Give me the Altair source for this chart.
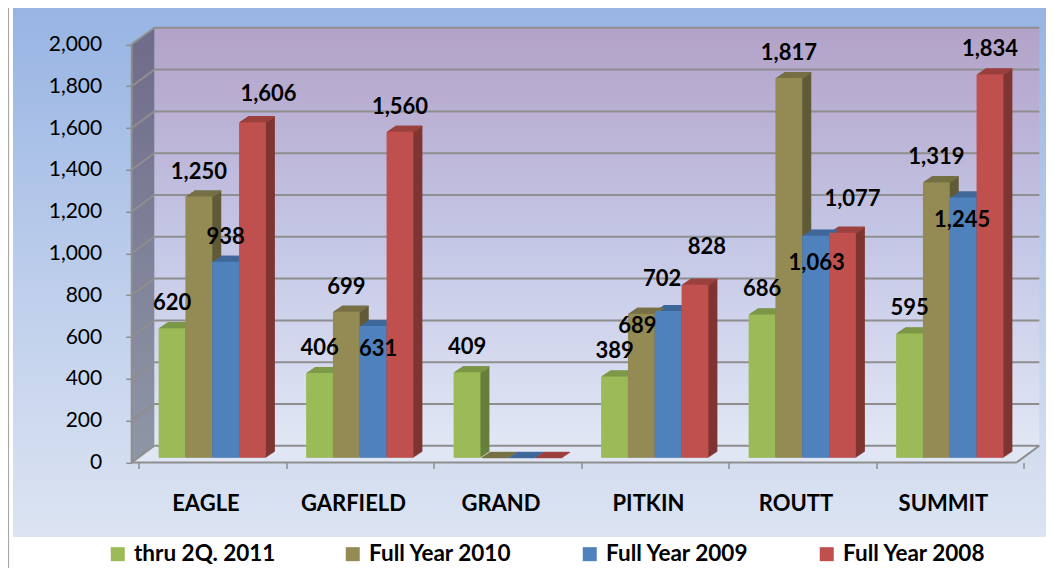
import altair as alt
import pandas as pd

# ---------------- data ----------------
counties = ["EAGLE", "GARFIELD", "GRAND", "PITKIN", "ROUTT", "SUMMIT"]
series = ["thru 2Q. 2011", "Full Year 2010", "Full Year 2009", "Full Year 2008"]
thru_2q_2011 = [620, 406, 409, 389, 686, 595]
full_year_2010 = [1250, 699, 0, 689, 1817, 1319]
full_year_2009 = [938, 631, 0, 702, 1063, 1245]
full_year_2008 = [1606, 1560, 0, 828, 1077, 1834]
y_ticks = [0, 200, 400, 600, 800, 1000, 1200, 1400, 1600, 1800, 2000]

# ---------------- styles ----------------
front_colors = ["#9bbb59", "#948a54", "#4f81bd", "#c0504d"]
side_colors = ["#687f3b", "#615a37", "#34567f", "#7f3432"]
top_colors = ["#7e9a48", "#777045", "#40689a", "#9c413e"]
FONT = "Lato"
GRID = "#8e8e8e"

# label nudges (dx, dy) for labels Excel moved to avoid collisions
label_nudge = {
    ("EAGLE", "Full Year 2008"): (16, -28),
    ("GARFIELD", "Full Year 2009"): (5, 23),
    ("PITKIN", "Full Year 2010"): (-4, 12),
    ("PITKIN", "Full Year 2009"): (-6, -32),
    ("PITKIN", "Full Year 2008"): (12, -38),
    ("ROUTT", "Full Year 2009"): (1, 27),
    ("ROUTT", "Full Year 2008"): (10, -34),
    ("SUMMIT", "Full Year 2009"): (-1, 22),
}

vals = [thru_2q_2011, full_year_2010, full_year_2009, full_year_2008]
rows = []
for si, s in enumerate(series):
    for ci, c in enumerate(counties):
        v = vals[si][ci]
        rows.append({
            "county": c, "series": s, "value": v,
            "label": f"{v:,}" if v else "",
            "side": side_colors[si], "top": top_colors[si],
            "lid": f"{c}|{s}",
        })
df = pd.DataFrame(rows)
grid_df = pd.DataFrame({"v": y_ticks})
frame_df = pd.DataFrame({"top": [max(y_ticks)], "bottom": [min(y_ticks)]})
one = pd.DataFrame({"k": [0]})

# ---------------- layout (pixels) ----------------
W, H = 885, 418
band = W / len(counties)
FX, FY = -6.8, 4.6      # front plane offset from bar plane
BX, BY = 15.8, -12.0    # back plane offset from bar plane
SIDE_W, SIDE_H = 9, 6   # bar depth

yscale = alt.Scale(domain=[0, 2000], nice=False, zero=True)
xscale = alt.Scale(type="band", domain=counties, paddingInner=0, paddingOuter=0)
yaxis = alt.Axis(values=y_ticks, labelExpr="format(datum.value, ',.0f')",
                 offset=-FX, tickOffset=FY, tickSize=6,
                 tickColor=GRID, tickWidth=1.5, domain=False, grid=False,
                 labelFont=FONT, labelFontSize=21, labelColor="black",
                 labelPadding=24, title=None, zindex=2)
xaxis = alt.Axis(orient="bottom", offset=FY, tickOffset=FX, labelOffset=FX,
                 tickBand="extent", tickSize=6,
                 tickColor=GRID, tickWidth=1.5, domain=False, grid=False,
                 labelFont=FONT, labelFontSize=22, labelFontWeight="bold",
                 labelColor="black", labelAngle=0, labelPadding=25, title=None,
                 zindex=2)


def X():
    return alt.X("county:N", sort=counties, scale=xscale, axis=xaxis)


def Y(field):
    return alt.Y(f"{field}:Q", scale=yscale, axis=yaxis)


def XO(shift=0.0):
    return alt.XOffset("series:N", sort=series,
                       scale=alt.Scale(type="band", domain=series,
                                       range=[shift, band + shift],
                                       paddingInner=0, paddingOuter=0.75))


def grad(stops):
    return {"gradient": "linear", "x1": 0, "y1": 0, "x2": 0, "y2": 1,
            "stops": [{"offset": o, "color": c} for o, c in stops]}


layers = []

# page panel background
layers.append(alt.Chart(one).mark_rect(
    fill=grad([(0, "#97b4e3"), (0.5, "#bccdeb"), (1, "#dce4f2")])).encode(
    x=alt.value(-125.5), x2=alt.value(907.5), y=alt.value(-31.8), y2=alt.value(497.2)))
# thin frame line at left
layers.append(alt.Chart(one).mark_rule(color="#a8a8a8", strokeWidth=1.2).encode(
    x=alt.value(-130), y=alt.value(-31.8), y2=alt.value(528.2)))

# back wall
layers.append(alt.Chart(frame_df).mark_rect(
    fill=grad([(0, "#b3a2c8"), (0.5, "#c4c6e6"), (1, "#e1e7f4")]),
    yOffset=BY, y2Offset=BY).encode(
    x=alt.value(BX), x2=alt.value(W + BX), y=Y("top"), y2="bottom:Q"))

# side wall & floor (parallelograms)
side_path = f"M{FX},{FY} L{BX},{BY} L{BX},{H + BY} L{FX},{H + FY} Z"
floor_path = f"M{FX},{H + FY} L{BX},{H + BY} L{W + BX},{H + BY} L{W + FX},{H + FY} Z"
layers.append(alt.Chart(one).mark_point(
    shape=side_path, size=4, filled=True, opacity=1,
    fill=grad([(0, "#6f6b8a"), (1, "#8f97a6")])).encode(x=alt.value(0), y=alt.value(0)))
layers.append(alt.Chart(one).mark_point(
    shape=floor_path, size=4, filled=True, opacity=1, fill="#e0e6f3").encode(
    x=alt.value(0), y=alt.value(0)))

# gridlines on back wall and side wall
layers.append(alt.Chart(grid_df).mark_rule(color=GRID, strokeWidth=2, yOffset=BY).encode(
    x=alt.value(BX), x2=alt.value(W + BX), y=Y("v")))
layers.append(alt.Chart(grid_df).mark_rule(color=GRID, strokeWidth=2, yOffset=FY, y2Offset=BY).encode(
    x=alt.value(FX), x2=alt.value(BX), y=Y("v"), y2="v:Q"))

# front axis lines and floor right edge
layers.append(alt.Chart(frame_df).mark_rule(color=GRID, strokeWidth=2, yOffset=FY, y2Offset=FY).encode(
    x=alt.value(FX), y=Y("top"), y2="bottom:Q"))
layers.append(alt.Chart(frame_df).mark_rule(color=GRID, strokeWidth=2, yOffset=FY).encode(
    x=alt.value(FX), x2=alt.value(W + FX), y=Y("bottom")))
layers.append(alt.Chart(frame_df).mark_rule(color=GRID, strokeWidth=2, yOffset=FY, y2Offset=BY).encode(
    x=alt.value(W + FX), x2=alt.value(W + BX), y=Y("bottom"), y2="bottom:Q"))

# bar side faces (stacked shifted copies)
for k in range(1, SIDE_W + 1):
    dy = -SIDE_H * k / SIDE_W
    layers.append(alt.Chart(df).mark_bar(yOffset=dy, y2Offset=dy).encode(
        x=X(), xOffset=XO(k), y=Y("value"), color=alt.Color("side:N", scale=None)))

# bar top faces (thin strips)
for j in range(1, SIDE_H + 1):
    layers.append(alt.Chart(df).mark_bar(yOffset=-j, y2Offset=-(j - 1) + 0.4).encode(
        x=X(), xOffset=XO(SIDE_W * j / SIDE_H), y=Y("value"), y2="value:Q",
        color=alt.Color("top:N", scale=None)))

# bar front faces
layers.append(alt.Chart(df).mark_bar().encode(
    x=X(), xOffset=XO(0), y=Y("value"),
    color=alt.Color("series:N", sort=series,
                    scale=alt.Scale(domain=series, range=front_colors),
                    legend=alt.Legend(orient="none", legendX=-32, legendY=503,
                                      direction="horizontal", columns=4, title=None,
                                      symbolType="square", symbolSize=196,
                                      symbolStrokeWidth=0, symbolOpacity=1,
                                      labelFont=FONT, labelFontWeight="bold",
                                      labelFontSize=22.5, labelColor="black",
                                      labelOffset=5, columnPadding=66, padding=0,
                                      labelLimit=400))))

# data labels
txt = dict(font=FONT, fontWeight="bold", fontSize=22, baseline="middle",
           align="center", color="black")
nudged = [f"{c}|{s}" for (c, s) in label_nudge]
layers.append(alt.Chart(df).mark_text(dy=-25, **txt).encode(
    x=X(), xOffset=XO(0), y=Y("value"), text="label:N").transform_filter(
    alt.datum.value > 0).transform_filter(
    {"not": alt.FieldOneOfPredicate(field="lid", oneOf=nudged)}))
for (c, s), (ddx, ddy) in label_nudge.items():
    layers.append(alt.Chart(df).mark_text(dx=ddx, dy=ddy, **txt).encode(
        x=X(), xOffset=XO(0), y=Y("value"), text="label:N").transform_filter(
        alt.FieldEqualPredicate(field="lid", equal=f"{c}|{s}")))

chart = alt.layer(*layers).resolve_scale(xOffset="independent").properties(
    width=W, height=H,
    autosize=alt.AutoSizeParams(type="none"),
    padding={"left": 130.5, "top": 31.8, "right": 22.5, "bottom": 110.2},
    background="white",
).configure_view(stroke=None)

chart.save("out.html", embed_options={"renderer": "svg", "actions": False})
